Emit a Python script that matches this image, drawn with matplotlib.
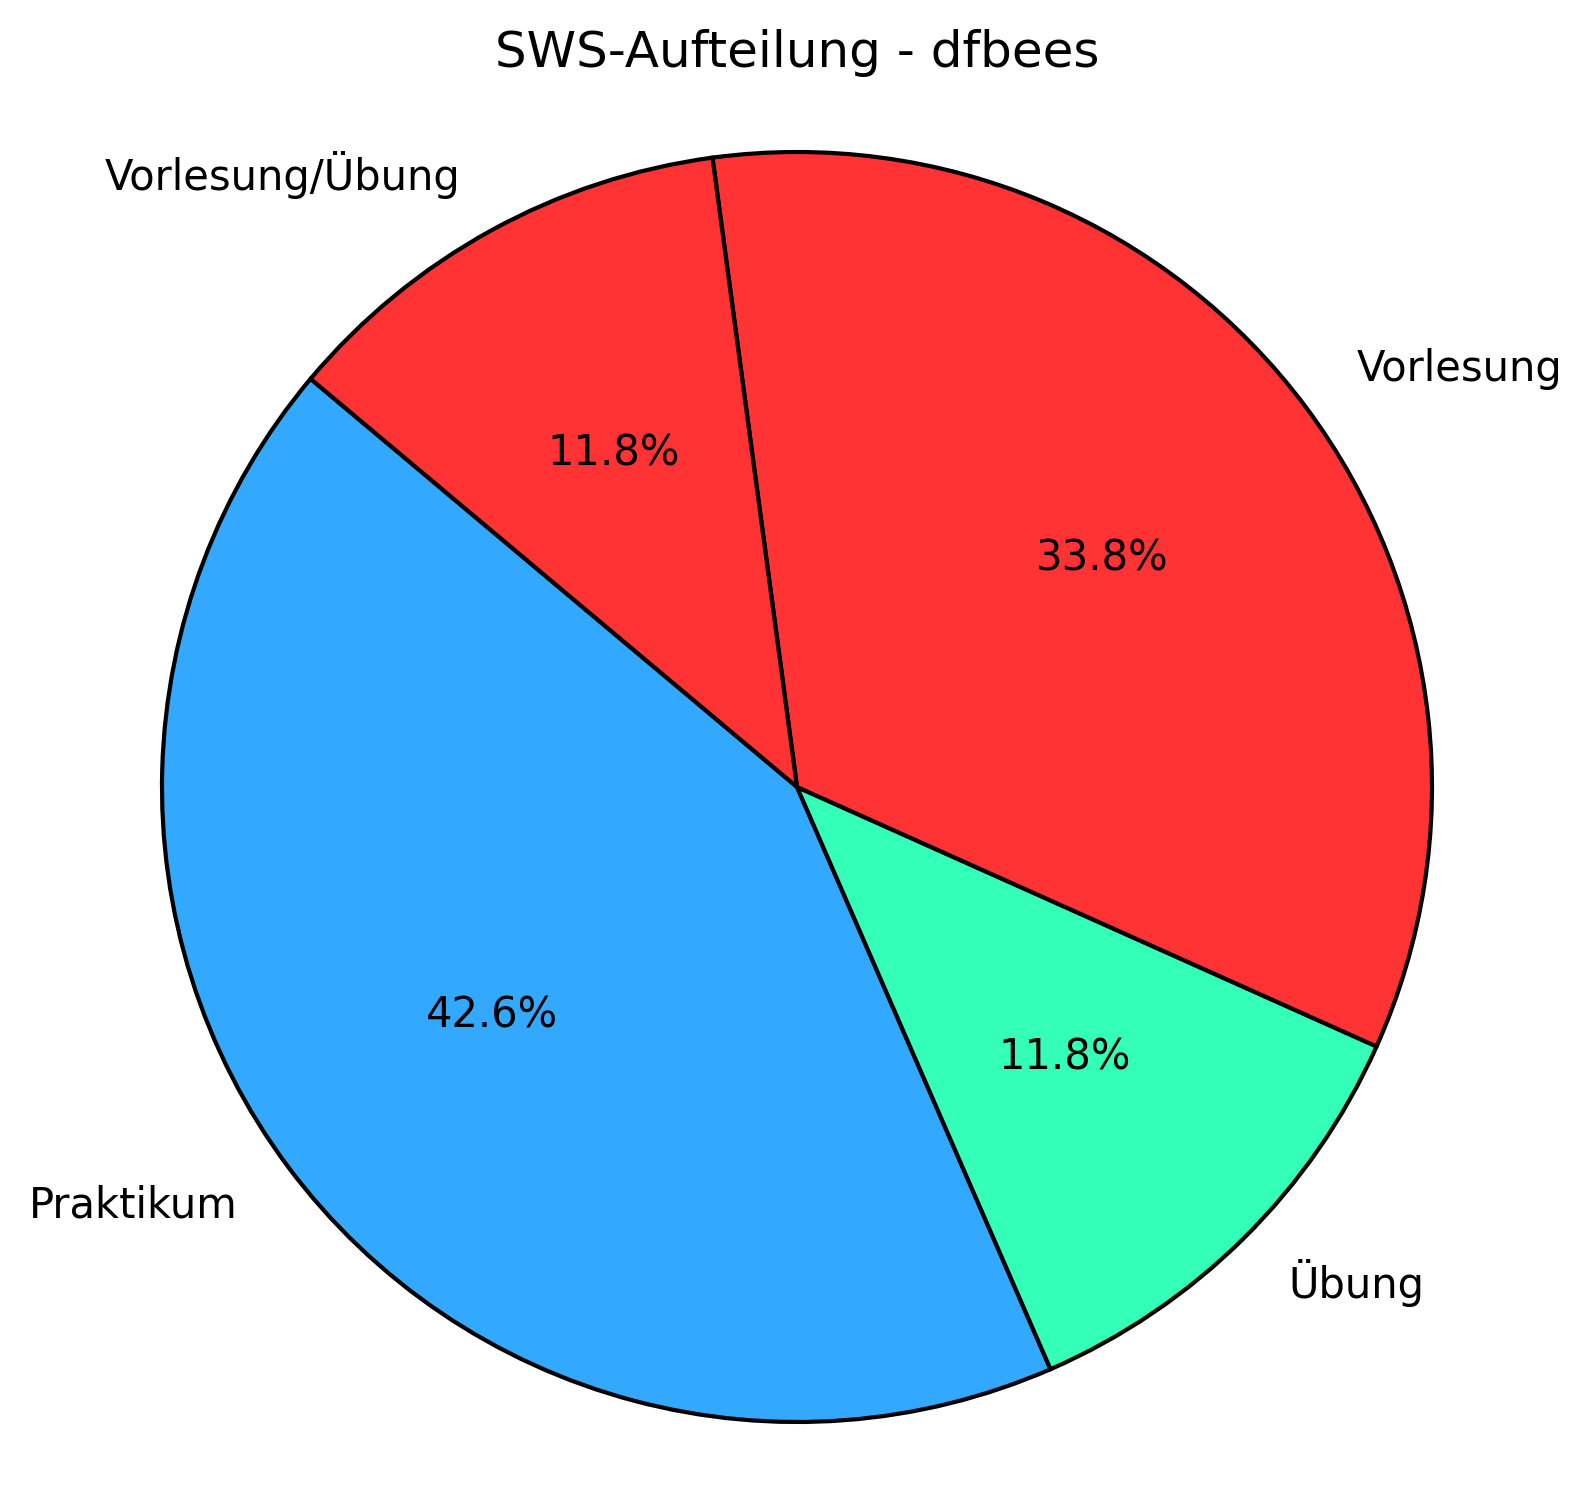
import matplotlib
matplotlib.use("Agg")
import matplotlib.pyplot as plt

labels = ["Praktikum", "Übung", "Vorlesung", "Vorlesung/Übung"]
sws = [29, 8, 23, 8]
colors = ["#33A8FF", "#33FFB8", "#FF3333", "#FF3333"]

W, H, DPI = 1592, 1509, 300
fig = plt.figure(figsize=(W / DPI, H / DPI), dpi=DPI)

# Kreis: Mitte (797, 787) px von oben, Radius 635 px
cx, cy, r = 797, 787, 635
side = 2.5 * r
ax = fig.add_axes([(cx - side / 2) / W, (H - cy - side / 2) / H, side / W, side / H])

ax.pie(sws, labels=labels, colors=colors, autopct="%1.1f%%", startangle=140,
       wedgeprops={"edgecolor": "black", "linewidth": 1})
ax.set_aspect("equal")
fig.text(cx / W, 1 - 53 / H, "SWS-Aufteilung - dfbees", ha="center", va="center", fontsize=12)

fig.savefig("out.png", dpi=DPI)
